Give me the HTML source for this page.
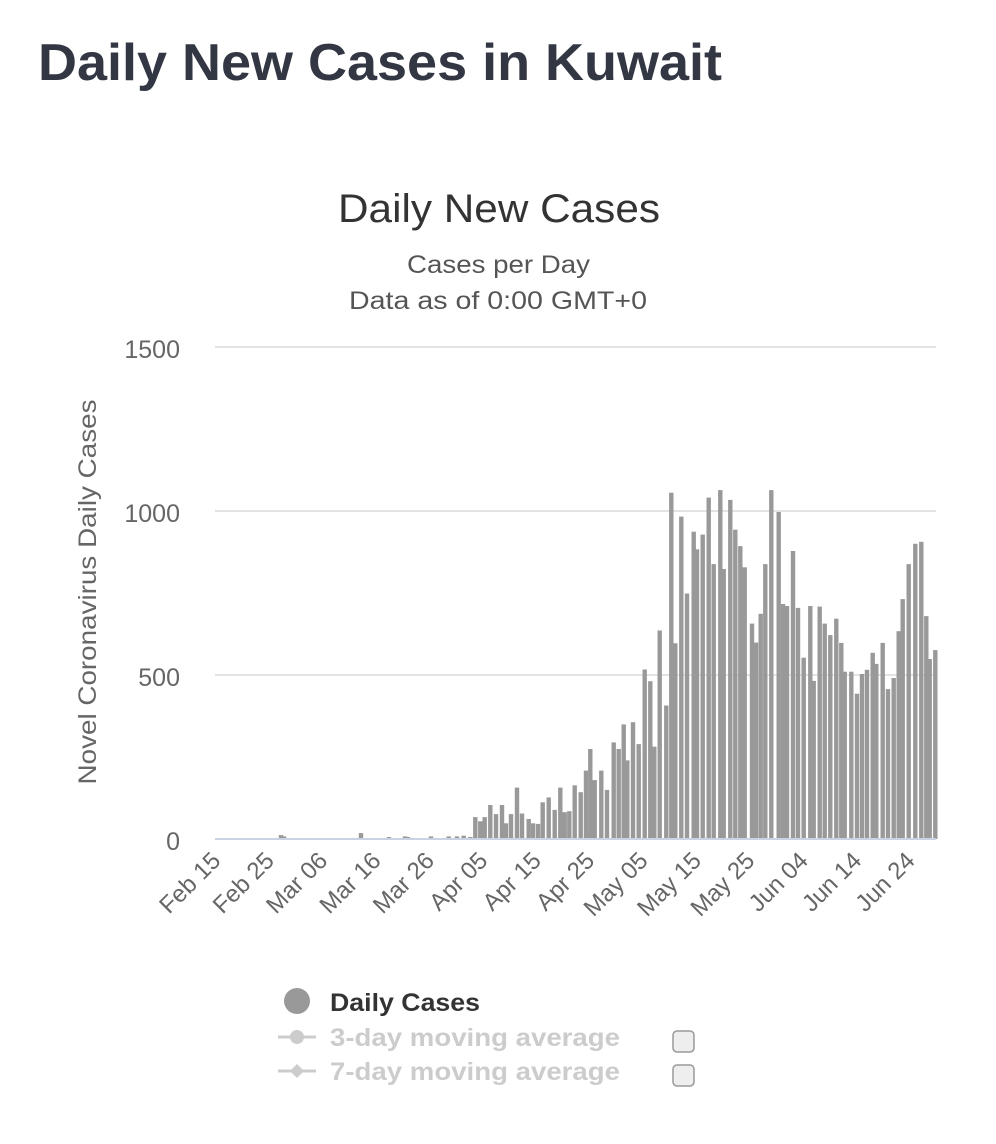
<!DOCTYPE html>
<html><head><meta charset="utf-8">
<style>
html,body{margin:0;padding:0;background:#fff;width:996px;height:1144px;overflow:hidden}
svg{display:block}
text{font-family:"Liberation Sans",Arial,sans-serif}
</style></head><body>
<svg id="s" width="996" height="1144" viewBox="0 0 996 1144" xmlns="http://www.w3.org/2000/svg">
<text x="38" y="80" font-size="52" font-weight="bold" fill="#333744" textLength="684" lengthAdjust="spacingAndGlyphs">Daily New Cases in Kuwait</text>
<text x="338" y="222" font-size="40" fill="#333" textLength="322" lengthAdjust="spacingAndGlyphs">Daily New Cases</text>
<text x="407" y="273" font-size="25" fill="#555" textLength="183" lengthAdjust="spacingAndGlyphs">Cases per Day</text>
<text x="349" y="309" font-size="25" fill="#555" textLength="298" lengthAdjust="spacingAndGlyphs">Data as of 0:00 GMT+0</text>
<g stroke="#e3e3e3" stroke-width="2">
<line x1="215" y1="347" x2="936" y2="347"/>
<line x1="215" y1="511" x2="936" y2="511"/>
<line x1="215" y1="675" x2="936" y2="675"/>
</g>
<g font-size="25" fill="#666" text-anchor="end">
<text x="180" y="358">1500</text>
<text x="180" y="522">1000</text>
<text x="180" y="686">500</text>
<text x="180" y="850">0</text>
</g>
<text transform="translate(96,592) rotate(-90)" font-size="25" fill="#666" text-anchor="middle" textLength="385" lengthAdjust="spacingAndGlyphs">Novel Coronavirus Daily Cases</text>
<g id="bars" fill="#999"></g>
<line x1="215" y1="839" x2="936" y2="839" stroke="#c9d3e3" stroke-width="2"/>
<g id="xl" font-size="24" fill="#666" text-anchor="end"></g>
<circle cx="297" cy="1001" r="13" fill="#999"/>
<text x="330" y="1011" font-size="25" font-weight="bold" fill="#333" textLength="150" lengthAdjust="spacingAndGlyphs">Daily Cases</text>
<line x1="278" y1="1037" x2="316" y2="1037" stroke="#ccc" stroke-width="3"/>
<circle cx="297" cy="1037" r="7" fill="#ccc"/>
<text x="330" y="1046" font-size="25" font-weight="bold" fill="#ccc" textLength="290" lengthAdjust="spacingAndGlyphs">3-day moving average</text>
<line x1="278" y1="1071" x2="316" y2="1071" stroke="#ccc" stroke-width="3"/>
<path d="M297 1064 L304 1071 L297 1078 L290 1071Z" fill="#ccc"/>
<text x="330" y="1080" font-size="25" font-weight="bold" fill="#ccc" textLength="290" lengthAdjust="spacingAndGlyphs">7-day moving average</text>
<rect x="673" y="1031" width="21" height="21" rx="4" fill="#eee" stroke="#999" stroke-width="1.5"/>
<rect x="673" y="1065" width="21" height="21" rx="4" fill="#eee" stroke="#999" stroke-width="1.5"/>
</svg>
<script>
var NS="http://www.w3.org/2000/svg";
var z1=[[30,2],[45,2],[80,8],[105,8],[125,10],[145,6],[160,67],[175,54],[188,67],[205,104],[222,76],[240,104],[252,48],[267,76],[285,157],[300,78],[320,61],[333,48],[348,46],[362,112],[380,127],[398,89],[415,157],[428,82],[442,85],[458,164],[476,143],[492,209],[505,275],[518,180],[538,209],[555,150],[575,295],[590,275],[605,350],[616,240],[633,357],[650,290],[668,518],[685,482],[697,282],[713,637],[733,408],[748,1058],[760,598],[778,985],[795,750]];
var z2=[[35,939],[45,885],[62,930],[80,1043],[95,840],[115,1066],[125,825],[145,1036],[160,945],[175,895],[188,830],[210,658],[222,600],[236,688],[250,840],[268,1066],[290,999],[303,718],[315,712],[333,880],[348,706],[365,554],[385,712],[395,483],[413,710],[428,658],[445,623],[463,673],[478,599],[488,511],[508,511],[525,444],[540,504],[555,517],[572,569],[583,535],[602,599],[618,458],[635,492],[650,635],[662,733],[680,840],[700,902],[718,908],[733,681],[743,550],[760,577]];
var early=[[281,12],[284,8],[361,18],[389,6],[405,8],[408,6],[431,8]];
var g=document.getElementById("bars");
function bar(x,v){var r=document.createElementNS(NS,"rect");var h=v*0.3273;r.setAttribute("x",(x-2.2).toFixed(1));r.setAttribute("y",(839-h).toFixed(1));r.setAttribute("width","4.4");r.setAttribute("height",h.toFixed(1));g.appendChild(r);}
early.forEach(function(b){bar(b[0],b[1]);});
z1.forEach(function(b){bar(420+b[0]/3+2,b[1]);});
z2.forEach(function(b){bar(680+b[0]/3+2,b[1]);});
var labs=["Feb 15","Feb 25","Mar 06","Mar 16","Mar 26","Apr 05","Apr 15","Apr 25","May 05","May 15","May 25","Jun 04","Jun 14","Jun 24"];
var xl=document.getElementById("xl");
labs.forEach(function(l,i){var x=222+i*53.4;var t=document.createElementNS(NS,"text");t.setAttribute("transform","translate("+x.toFixed(1)+",862) rotate(-45)");t.textContent=l;xl.appendChild(t);});
</script>
</body></html>
